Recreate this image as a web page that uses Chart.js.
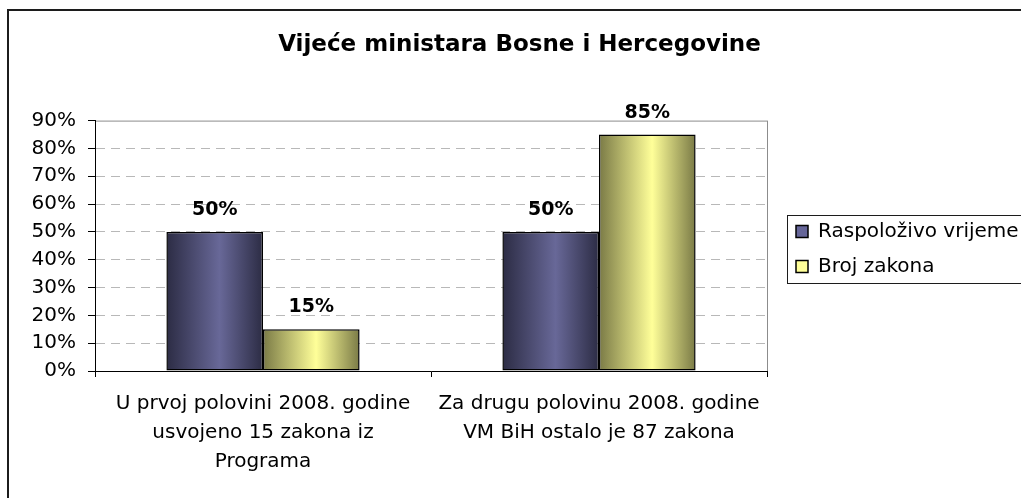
<!DOCTYPE html>
<html lang="bs">
<head>
<meta charset="UTF-8">
<title>Vijeće ministara Bosne i Hercegovine</title>
<script src="https://cdn.jsdelivr.net/npm/chart.js"></script>
<style>
  html, body { margin: 0; padding: 0; background: #fff; overflow: hidden; }
  #wrap { position: relative; width: 1021px; height: 498px; }
</style>
</head>
<body>
<div id="wrap"><canvas id="myChart"></canvas></div>
<script>
// data
const categories = [
    ['U prvoj polovini 2008. godine', 'usvojeno 15 zakona iz', 'Programa'],
    ['Za drugu polovinu 2008. godine', 'VM BiH ostalo je 87 zakona']
];
const seriesNames = ['Raspoloživo vrijeme', 'Broj zakona'];
const raspolozivoVrijeme = [50, 50];
const brojZakona = [15, 85];
const yMax = 90;
const yStep = 10;

const FONT = '"DejaVu Sans", sans-serif';

// colours (dark edge / light middle of each bar)
const shades = [
    { flat: '#666699', dark: 'rgb(44,44,68)', light: 'rgb(104,104,152)' },
    { flat: '#ffff99', dark: 'rgb(122,122,70)', light: 'rgb(255,255,153)' }
];

// white page, outer frame, plot border
const frame = {
    id: 'frame',
    beforeDraw(chart) {
        const c = chart.ctx;
        const a = chart.chartArea;
        c.save();
        c.fillStyle = '#fff';
        c.fillRect(0, 0, chart.width, chart.height);
        c.strokeStyle = '#1c1c1c';
        c.lineWidth = 2;
        c.strokeRect(8, 10, chart.width + 40, chart.height + 40);
        c.strokeStyle = '#8c8c8c';
        c.lineWidth = 1;
        c.strokeRect(a.left + 0.5, a.top + 0.5, a.right - a.left, a.bottom - a.top);
        c.restore();
    }
};

// horizontal gradient on each bar
const shading = {
    id: 'shading',
    beforeDatasetsDraw(chart) {
        chart.data.datasets.forEach((ds, i) => {
            const s = shades[i];
            chart.getDatasetMeta(i).data.forEach(bar => {
                const g = chart.ctx.createLinearGradient(bar.x - bar.width / 2, 0, bar.x + bar.width / 2, 0);
                g.addColorStop(0, s.dark);
                g.addColorStop(0.55, s.light);
                g.addColorStop(1, s.dark);
                bar.options = Object.assign({}, bar.options, { backgroundColor: g });
            });
        });
    }
};

// value labels above bars
const valueLabels = {
    id: 'valueLabels',
    afterDatasetsDraw(chart) {
        const c = chart.ctx;
        c.save();
        c.font = 'bold 19px ' + FONT;
        c.fillStyle = '#000';
        c.textAlign = 'center';
        c.textBaseline = 'alphabetic';
        chart.data.datasets.forEach((ds, i) => {
            chart.getDatasetMeta(i).data.forEach((bar, j) => {
                c.fillText(ds.data[j] + '%', bar.x, bar.y - 17);
            });
        });
        c.restore();
    }
};

// legend: fixed width, nudged right, with a border
const legendBox = {
    id: 'legendBox',
    beforeLayout(chart) {
        const lg = chart.legend;
        if (lg && !lg._fixed) {
            const fit = lg.fit.bind(lg);
            lg.fit = function () { fit(); this.width = 254; };
            lg._fixed = true;
        }
    },
    afterLayout(chart) {
        const lg = chart.legend;
        lg.left += 14;
        lg.right += 14;
    },
    afterDraw(chart) {
        const lg = chart.legend;
        const c = chart.ctx;
        const cy = (lg.top + lg.bottom) / 2;
        c.save();
        c.strokeStyle = '#1c1c1c';
        c.lineWidth = 1;
        c.strokeRect(lg.left + 6.5, Math.round(cy - 34) + 0.5, 400, 68);
        c.restore();
    }
};

const ctx = document.getElementById('myChart').getContext('2d');

const config = {
    type: 'bar',
    plugins: [frame, shading, valueLabels, legendBox],
    data: {
        labels: categories,
        datasets: [
            {
                label: seriesNames[0],
                data: raspolozivoVrijeme,
                backgroundColor: shades[0].flat,
                borderColor: '#000',
                borderWidth: 1.5,
                borderSkipped: false
            },
            {
                label: seriesNames[1],
                data: brojZakona,
                backgroundColor: shades[1].flat,
                borderColor: '#000',
                borderWidth: 1.5,
                borderSkipped: false
            }
        ]
    },
    options: {
        responsive: true,
        maintainAspectRatio: false,
        animation: false,
        layout: {
            padding: { left: 18, right: 0, top: 0, bottom: 0 }
        },
        datasets: {
            bar: { categoryPercentage: 0.575, barPercentage: 1 }
        },
        scales: {
            x: {
                afterFit(scale) { scale.height = 127; },
                grid: {
                    offset: true,
                    drawOnChartArea: false,
                    tickLength: 6,
                    tickColor: '#000'
                },
                border: { color: '#000', width: 1 },
                ticks: {
                    color: '#000',
                    padding: 12,
                    maxRotation: 0,
                    autoSkip: false,
                    font: { family: FONT, size: 20, lineHeight: 1.45 }
                }
            },
            y: {
                min: 0,
                max: yMax,
                afterFit(scale) { scale.width = 77; },
                grid: {
                    color: ctx => (ctx.tick && (ctx.tick.value === 0 || ctx.tick.value === yMax)) ? 'rgba(0,0,0,0)' : '#b8b8b8',
                    tickColor: '#000',
                    tickBorderDash: [],
                    tickLength: 7
                },
                border: { color: '#000', width: 1, dash: [9, 6] },
                ticks: {
                    stepSize: yStep,
                    color: '#000',
                    padding: 12,
                    font: { family: FONT, size: 20 },
                    callback: v => v + '%'
                }
            }
        },
        plugins: {
            title: {
                display: true,
                text: 'Vijeće ministara Bosne i Hercegovine',
                color: '#000',
                font: { family: FONT, size: 23, weight: 'bold', lineHeight: 1.2 },
                padding: { top: 31, bottom: 62 }
            },
            legend: {
                position: 'right',
                labels: {
                    color: '#000',
                    boxWidth: 12,
                    boxHeight: 12,
                    padding: 15,
                    font: { family: FONT, size: 20 }
                }
            },
            tooltip: { enabled: false }
        }
    }
};

const myChart = new Chart(ctx, config);
</script>
</body>
</html>
